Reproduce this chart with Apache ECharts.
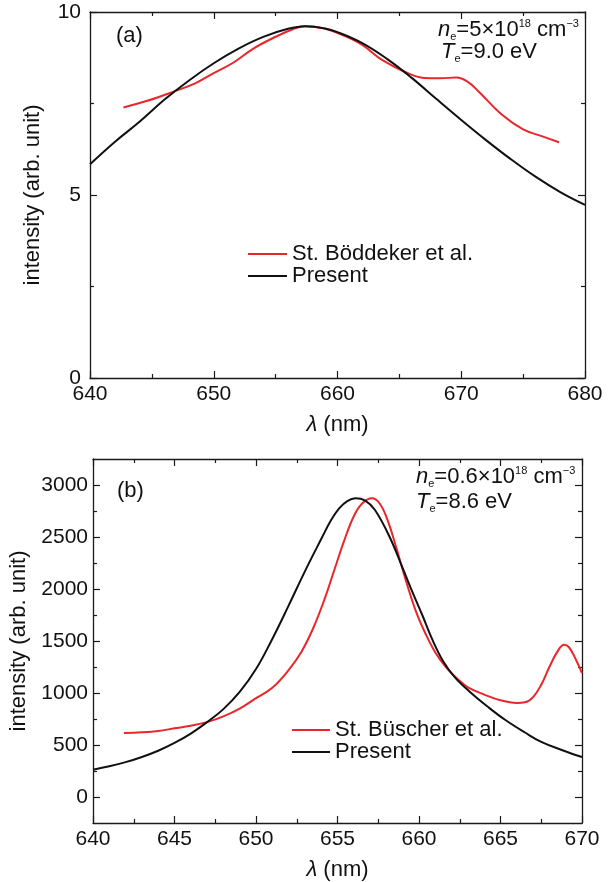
<!DOCTYPE html>
<html><head><meta charset="utf-8">
<script src="https://cdn.jsdelivr.net/npm/echarts@6/dist/echarts.min.js"></script>
<style>html,body{margin:0;padding:0;background:#fff}#c{width:611px;height:882px}</style>
</head><body><div id="c"></div>
<script>
// ---- Panel (a) data ----
const aRedName = 'St. Böddeker et al.';
const aBlackName = 'Present';
const aRedX = [642.7, 644.7, 646.8, 648.5, 650.0, 651.6, 653.2, 654.8, 656.4, 657.4, 658.9, 660.4, 662.0, 663.6, 665.6, 667.0, 668.3, 669.6, 670.5, 671.4, 673.3, 675.0, 676.5, 677.9];
const aRedY = [7.39, 7.58, 7.83, 8.05, 8.33, 8.62, 9.00, 9.29, 9.53, 9.61, 9.55, 9.37, 9.10, 8.69, 8.34, 8.20, 8.19, 8.21, 8.10, 7.83, 7.19, 6.79, 6.61, 6.44];
const aBlackX = [640, 642, 644, 646, 648, 650, 652, 654, 656, 657.4, 659, 660, 662, 664, 666, 668, 670, 672, 674, 676, 678, 680];
const aBlackY = [5.84, 6.45, 7.00, 7.60, 8.13, 8.60, 9.00, 9.32, 9.54, 9.61, 9.55, 9.45, 9.15, 8.72, 8.20, 7.62, 7.05, 6.50, 5.98, 5.50, 5.08, 4.73];

// ---- Panel (b) data ----
const bRedName = 'St. Büscher et al.';
const bBlackName = 'Present';
const bRedX = [641.9, 643, 644, 645, 646, 647, 648, 649, 650, 651, 652, 652.8, 653.5, 654.2, 654.8, 655.4, 656.0, 656.5, 657.1, 657.6, 658.1, 658.6, 659.2, 659.8, 660.4, 661.0, 661.7, 662.4, 663.0, 664.0, 665.0, 666.0, 666.5, 667.0, 667.5, 668.0, 668.5, 668.9, 669.2, 669.6, 670.0];
const bRedY = [615, 622, 635, 660, 685, 720, 775, 850, 950, 1050, 1220, 1400, 1620, 1900, 2180, 2460, 2700, 2820, 2872, 2820, 2650, 2400, 2080, 1790, 1570, 1390, 1240, 1130, 1055, 985, 930, 905, 910, 960, 1080, 1250, 1400, 1463, 1440, 1330, 1191];
const bBlackX = [640, 641, 642, 643, 644, 645, 646, 647, 648, 649, 650, 651, 652, 653, 654, 654.6, 655.1, 655.6, 656.1, 656.7, 657.3, 658.2, 659.0, 659.6, 660.2, 660.8, 661.5, 662.2, 663.2, 664.2, 665.3, 666.5, 667.5, 668.8, 670];
const bBlackY = [262, 295, 335, 385, 445, 520, 610, 720, 845, 1010, 1230, 1520, 1840, 2170, 2480, 2660, 2775, 2845, 2872, 2850, 2760, 2500, 2200, 1970, 1750, 1520, 1300, 1150, 1000, 870, 740, 620, 530, 450, 384];
const bYMajor = [0, 500, 1000, 1500, 2000, 2500, 3000];
const bYMinor = [250, 750, 1250, 1750, 2250, 2750];

const zip = (xs, ys) => xs.map((x, i) => [x, ys[i]]);
const FONT = "'Liberation Sans', Arial, sans-serif";
const AX = '#1a1a1a';
const RED = '#e8262b';
const TICKFS = 21, TXTFS = 22;

function xAx(grid, min, max, interval, pos, labels) {
  return {
    type: 'value', gridIndex: grid, min: min, max: max, interval: interval, position: pos,
    axisLine: { show: true, onZero: false, lineStyle: { color: AX, width: 1.3 } },
    axisTick: { show: true, inside: true, length: 7, lineStyle: { color: AX, width: 1.2 } },
    minorTick: { show: true, splitNumber: 2, length: 4, lineStyle: { color: AX, width: 1.2 } },
    splitLine: { show: false },
    axisLabel: { show: labels, color: '#111', fontSize: TICKFS, fontFamily: FONT, margin: 6 },
    name: labels ? '{i|λ} (nm)' : '', nameLocation: 'middle', nameGap: 36,
    nameTextStyle: { color: '#111', fontSize: TXTFS, fontFamily: FONT,
      rich: { i: { fontStyle: 'italic', fontSize: TXTFS, fontFamily: FONT, color: '#111' } } }
  };
}

const option = {
  animation: false,
  backgroundColor: '#fff',
  textStyle: { fontFamily: FONT },
  grid: [
    { left: 90, top: 12, width: 495, height: 366 },
    { left: 93, top: 459, width: 489, height: 364 }
  ],
  xAxis: [
    xAx(0, 640, 680, 10, 'bottom', true),
    xAx(0, 640, 680, 10, 'top', false),
    xAx(1, 640, 670, 5, 'bottom', true),
    xAx(1, 640, 670, 5, 'top', false)
  ],
  yAxis: [
    { type: 'value', gridIndex: 0, min: 0, max: 10, interval: 5, position: 'left',
      axisLine: { show: true, onZero: false, lineStyle: { color: AX, width: 1.3 } },
      axisTick: { inside: true, length: 7, lineStyle: { color: AX, width: 1.2 } },
      minorTick: { show: true, splitNumber: 2, length: 4, lineStyle: { color: AX, width: 1.2 } },
      splitLine: { show: false },
      axisLabel: { color: '#111', fontSize: TICKFS, fontFamily: FONT, margin: 9 },
      name: 'intensity (arb. unit)', nameLocation: 'middle', nameGap: 46,
      nameTextStyle: { color: '#111', fontSize: TXTFS, fontFamily: FONT } },
    { type: 'value', gridIndex: 0, min: 0, max: 10, interval: 5, position: 'right',
      axisLine: { show: true, onZero: false, lineStyle: { color: AX, width: 1.3 } },
      axisTick: { inside: true, length: 7, lineStyle: { color: AX, width: 1.2 } },
      minorTick: { show: true, splitNumber: 2, length: 4, lineStyle: { color: AX, width: 1.2 } },
      splitLine: { show: false }, axisLabel: { show: false } },
    { type: 'value', gridIndex: 1, min: -250, max: 3250, position: 'left',
      axisLine: { show: true, onZero: false, lineStyle: { color: AX, width: 1.3 } },
      axisTick: { inside: true, length: 7, customValues: bYMajor, lineStyle: { color: AX, width: 1.2 } },
      splitLine: { show: false },
      axisLabel: { color: '#111', fontSize: TICKFS, fontFamily: FONT, margin: 5, customValues: bYMajor,
        formatter: v => String(v) },
      name: 'intensity (arb. unit)', nameLocation: 'middle', nameGap: 45,
      nameTextStyle: { color: '#111', fontSize: TXTFS, fontFamily: FONT } },
    { type: 'value', gridIndex: 1, min: -250, max: 3250, position: 'right',
      axisLine: { show: true, onZero: false, lineStyle: { color: AX, width: 1.3 } },
      axisTick: { inside: true, length: 7, customValues: bYMajor, lineStyle: { color: AX, width: 1.2 } },
      splitLine: { show: false }, axisLabel: { show: false } },
    { type: 'value', gridIndex: 1, min: -250, max: 3250, position: 'left',
      axisLine: { show: false },
      axisTick: { inside: true, length: 4, customValues: bYMinor, lineStyle: { color: AX, width: 1.2 } },
      splitLine: { show: false }, axisLabel: { show: false } },
    { type: 'value', gridIndex: 1, min: -250, max: 3250, position: 'right',
      axisLine: { show: false },
      axisTick: { inside: true, length: 4, customValues: bYMinor, lineStyle: { color: AX, width: 1.2 } },
      splitLine: { show: false }, axisLabel: { show: false } }
  ],
  legend: [
    { orient: 'vertical', left: 243, top: 238, icon: 'rect', itemWidth: 39, itemHeight: 2, itemGap: 0,
      data: [aRedName, aBlackName], textStyle: { fontSize: TXTFS, color: '#111', fontFamily: FONT, lineHeight: 22 }, selectedMode: false },
    { orient: 'vertical', left: 287, top: 714, icon: 'rect', itemWidth: 38, itemHeight: 2, itemGap: 0,
      data: [bRedName, bBlackName], textStyle: { fontSize: TXTFS, color: '#111', fontFamily: FONT, lineHeight: 22 }, selectedMode: false }
  ],
  series: [
    { name: aRedName, type: 'line', xAxisIndex: 0, yAxisIndex: 0, data: zip(aRedX, aRedY),
      smooth: 0.4, showSymbol: false, symbol: 'none', lineStyle: { color: RED, width: 2 }, itemStyle: { color: RED } },
    { name: aBlackName, type: 'line', xAxisIndex: 0, yAxisIndex: 0, data: zip(aBlackX, aBlackY),
      smooth: 0.4, showSymbol: false, symbol: 'none', lineStyle: { color: '#111', width: 2 }, itemStyle: { color: '#111' } },
    { name: bRedName, type: 'line', xAxisIndex: 2, yAxisIndex: 2, data: zip(bRedX, bRedY),
      smooth: 0.4, showSymbol: false, symbol: 'none', lineStyle: { color: RED, width: 2 }, itemStyle: { color: RED } },
    { name: bBlackName, type: 'line', xAxisIndex: 2, yAxisIndex: 2, data: zip(bBlackX, bBlackY),
      smooth: 0.4, showSymbol: false, symbol: 'none', lineStyle: { color: '#111', width: 2 }, itemStyle: { color: '#111' } }
  ],
  graphic: []
};

const rich = {
  i: { fontStyle: 'italic', fontSize: TXTFS, fontFamily: FONT, fill: '#111', lineHeight: 24 },
  n: { fontSize: TXTFS, fontFamily: FONT, fill: '#111', lineHeight: 24 },
  sub: { fontSize: 11, fontFamily: FONT, fill: '#111', verticalAlign: 'bottom', lineHeight: 24 },
  sup: { fontSize: 11, fontFamily: FONT, fill: '#111', verticalAlign: 'top', lineHeight: 24 }
};
function txt(x, y, s) {
  return { type: 'text', left: x, top: y, silent: true,
    style: { text: s, rich: rich, fontSize: TXTFS, fontFamily: FONT, fill: '#111' } };
}
option.graphic = [
  txt(116, 25, '{n|(a)}'),
  txt(438, 18, '{i|n}{sub|e}{n|=5×10}{sup|18}{n| cm}{sup|−3}'),
  txt(441, 41, '{i|T}{sub|e}{n|=9.0 eV}'),
  txt(117, 480, '{n|(b)}'),
  txt(416, 465, '{i|n}{sub|e}{n|=0.6×10}{sup|18}{n| cm}{sup|−3}'),
  txt(416, 491, '{i|T}{sub|e}{n|=8.6 eV}')
];

const chart = echarts.init(document.getElementById('c'), null, { renderer: 'canvas' });
chart.setOption(option);
</script></body></html>
